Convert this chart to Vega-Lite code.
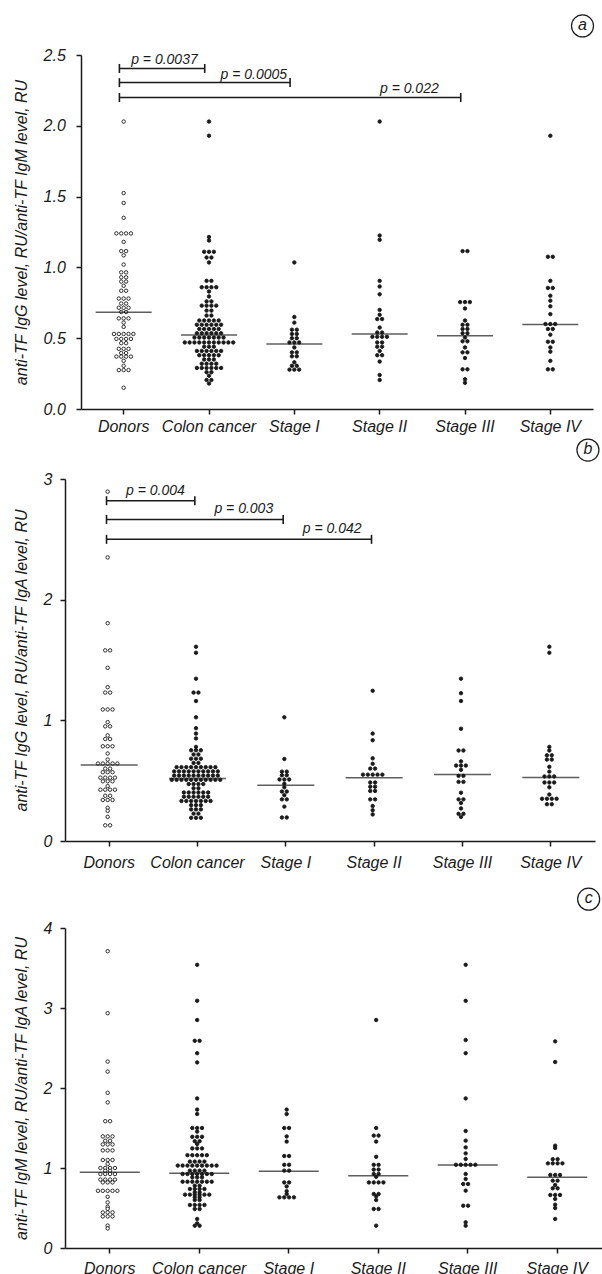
{
"$schema": "https://vega.github.io/schema/vega-lite/v6.json",
"padding": {"left": 13, "top": 12, "right": 0, "bottom": 0},
"config": {
 "view": {"stroke": null},
 "font": "Liberation Sans",
 "axis": {"domainColor": "#1a1a1a", "domainWidth": 1.5, "tickColor": "#1a1a1a", "tickWidth": 1.5, "tickSize": 5, "labelColor": "#1a1a1a", "labelFont": "Liberation Sans", "labelFontSize": 16, "labelFontStyle": "italic", "titleFont": "Liberation Sans", "titleFontSize": 16, "titleFontStyle": "italic", "titleFontWeight": "normal", "titleColor": "#1a1a1a", "grid": false, "labelFlush": false, "labelOverlap": false, "labelBound": false, "minExtent": 0, "titlePadding": 14},
 "axisX": {"labelAngle": 0}
},
"datasets": {
 "dA": [
{"g":"Donors","v":2.03},{"g":"Donors","v":1.525},{"g":"Donors","v":1.455},{"g":"Donors","v":1.35},{"g":"Donors","v":1.24},{"g":"Donors","v":1.24},{"g":"Donors","v":1.24},{"g":"Donors","v":1.24},{"g":"Donors","v":1.18},{"g":"Donors","v":1.115},{"g":"Donors","v":1.115},{"g":"Donors","v":1.085},{"g":"Donors","v":1.02},{"g":"Donors","v":0.965},{"g":"Donors","v":0.965},{"g":"Donors","v":0.93},{"g":"Donors","v":0.93},{"g":"Donors","v":0.9},{"g":"Donors","v":0.9},{"g":"Donors","v":0.87},{"g":"Donors","v":0.835},{"g":"Donors","v":0.835},{"g":"Donors","v":0.78},{"g":"Donors","v":0.78},{"g":"Donors","v":0.78},{"g":"Donors","v":0.745},{"g":"Donors","v":0.745},{"g":"Donors","v":0.715},{"g":"Donors","v":0.715},{"g":"Donors","v":0.715},{"g":"Donors","v":0.685},{"g":"Donors","v":0.685},{"g":"Donors","v":0.64},{"g":"Donors","v":0.64},{"g":"Donors","v":0.64},{"g":"Donors","v":0.61},{"g":"Donors","v":0.58},{"g":"Donors","v":0.53},{"g":"Donors","v":0.53},{"g":"Donors","v":0.53},{"g":"Donors","v":0.53},{"g":"Donors","v":0.53},{"g":"Donors","v":0.495},{"g":"Donors","v":0.495},{"g":"Donors","v":0.495},{"g":"Donors","v":0.495},{"g":"Donors","v":0.465},{"g":"Donors","v":0.465},{"g":"Donors","v":0.425},{"g":"Donors","v":0.425},{"g":"Donors","v":0.425},{"g":"Donors","v":0.395},{"g":"Donors","v":0.395},{"g":"Donors","v":0.37},{"g":"Donors","v":0.37},{"g":"Donors","v":0.37},{"g":"Donors","v":0.37},{"g":"Donors","v":0.34},{"g":"Donors","v":0.305},{"g":"Donors","v":0.275},{"g":"Donors","v":0.275},{"g":"Donors","v":0.275},{"g":"Donors","v":0.15},
{"g":"Colon cancer","v":2.03},{"g":"Colon cancer","v":1.93},{"g":"Colon cancer","v":1.215},{"g":"Colon cancer","v":1.19},{"g":"Colon cancer","v":1.11},{"g":"Colon cancer","v":1.11},{"g":"Colon cancer","v":1.11},{"g":"Colon cancer","v":1.07},{"g":"Colon cancer","v":1.07},{"g":"Colon cancer","v":1.035},{"g":"Colon cancer","v":0.905},{"g":"Colon cancer","v":0.905},{"g":"Colon cancer","v":0.86},{"g":"Colon cancer","v":0.86},{"g":"Colon cancer","v":0.86},{"g":"Colon cancer","v":0.86},{"g":"Colon cancer","v":0.83},{"g":"Colon cancer","v":0.795},{"g":"Colon cancer","v":0.76},{"g":"Colon cancer","v":0.76},{"g":"Colon cancer","v":0.73},{"g":"Colon cancer","v":0.73},{"g":"Colon cancer","v":0.73},{"g":"Colon cancer","v":0.73},{"g":"Colon cancer","v":0.695},{"g":"Colon cancer","v":0.695},{"g":"Colon cancer","v":0.66},{"g":"Colon cancer","v":0.66},{"g":"Colon cancer","v":0.625},{"g":"Colon cancer","v":0.625},{"g":"Colon cancer","v":0.625},{"g":"Colon cancer","v":0.625},{"g":"Colon cancer","v":0.625},{"g":"Colon cancer","v":0.595},{"g":"Colon cancer","v":0.595},{"g":"Colon cancer","v":0.595},{"g":"Colon cancer","v":0.595},{"g":"Colon cancer","v":0.595},{"g":"Colon cancer","v":0.595},{"g":"Colon cancer","v":0.565},{"g":"Colon cancer","v":0.565},{"g":"Colon cancer","v":0.565},{"g":"Colon cancer","v":0.565},{"g":"Colon cancer","v":0.565},{"g":"Colon cancer","v":0.535},{"g":"Colon cancer","v":0.535},{"g":"Colon cancer","v":0.535},{"g":"Colon cancer","v":0.535},{"g":"Colon cancer","v":0.535},{"g":"Colon cancer","v":0.535},{"g":"Colon cancer","v":0.505},{"g":"Colon cancer","v":0.505},{"g":"Colon cancer","v":0.505},{"g":"Colon cancer","v":0.505},{"g":"Colon cancer","v":0.505},{"g":"Colon cancer","v":0.505},{"g":"Colon cancer","v":0.505},{"g":"Colon cancer","v":0.47},{"g":"Colon cancer","v":0.47},{"g":"Colon cancer","v":0.47},{"g":"Colon cancer","v":0.47},{"g":"Colon cancer","v":0.47},{"g":"Colon cancer","v":0.47},{"g":"Colon cancer","v":0.47},{"g":"Colon cancer","v":0.47},{"g":"Colon cancer","v":0.47},{"g":"Colon cancer","v":0.47},{"g":"Colon cancer","v":0.47},{"g":"Colon cancer","v":0.44},{"g":"Colon cancer","v":0.44},{"g":"Colon cancer","v":0.44},{"g":"Colon cancer","v":0.41},{"g":"Colon cancer","v":0.41},{"g":"Colon cancer","v":0.41},{"g":"Colon cancer","v":0.41},{"g":"Colon cancer","v":0.41},{"g":"Colon cancer","v":0.41},{"g":"Colon cancer","v":0.38},{"g":"Colon cancer","v":0.38},{"g":"Colon cancer","v":0.38},{"g":"Colon cancer","v":0.38},{"g":"Colon cancer","v":0.38},{"g":"Colon cancer","v":0.35},{"g":"Colon cancer","v":0.35},{"g":"Colon cancer","v":0.35},{"g":"Colon cancer","v":0.32},{"g":"Colon cancer","v":0.32},{"g":"Colon cancer","v":0.32},{"g":"Colon cancer","v":0.32},{"g":"Colon cancer","v":0.29},{"g":"Colon cancer","v":0.29},{"g":"Colon cancer","v":0.29},{"g":"Colon cancer","v":0.29},{"g":"Colon cancer","v":0.29},{"g":"Colon cancer","v":0.29},{"g":"Colon cancer","v":0.26},{"g":"Colon cancer","v":0.26},{"g":"Colon cancer","v":0.235},{"g":"Colon cancer","v":0.205},{"g":"Colon cancer","v":0.205},{"g":"Colon cancer","v":0.18},
{"g":"Stage I","v":1.035},{"g":"Stage I","v":0.65},{"g":"Stage I","v":0.61},{"g":"Stage I","v":0.56},{"g":"Stage I","v":0.56},{"g":"Stage I","v":0.53},{"g":"Stage I","v":0.53},{"g":"Stage I","v":0.5},{"g":"Stage I","v":0.5},{"g":"Stage I","v":0.47},{"g":"Stage I","v":0.47},{"g":"Stage I","v":0.47},{"g":"Stage I","v":0.435},{"g":"Stage I","v":0.4},{"g":"Stage I","v":0.4},{"g":"Stage I","v":0.372},{"g":"Stage I","v":0.372},{"g":"Stage I","v":0.33},{"g":"Stage I","v":0.305},{"g":"Stage I","v":0.305},{"g":"Stage I","v":0.278},{"g":"Stage I","v":0.278},{"g":"Stage I","v":0.278},
{"g":"Stage II","v":2.03},{"g":"Stage II","v":1.225},{"g":"Stage II","v":1.195},{"g":"Stage II","v":0.905},{"g":"Stage II","v":0.865},{"g":"Stage II","v":0.81},{"g":"Stage II","v":0.7},{"g":"Stage II","v":0.665},{"g":"Stage II","v":0.635},{"g":"Stage II","v":0.635},{"g":"Stage II","v":0.575},{"g":"Stage II","v":0.54},{"g":"Stage II","v":0.54},{"g":"Stage II","v":0.51},{"g":"Stage II","v":0.51},{"g":"Stage II","v":0.51},{"g":"Stage II","v":0.51},{"g":"Stage II","v":0.47},{"g":"Stage II","v":0.47},{"g":"Stage II","v":0.44},{"g":"Stage II","v":0.44},{"g":"Stage II","v":0.41},{"g":"Stage II","v":0.38},{"g":"Stage II","v":0.38},{"g":"Stage II","v":0.335},{"g":"Stage II","v":0.24},{"g":"Stage II","v":0.205},
{"g":"Stage III","v":1.115},{"g":"Stage III","v":1.115},{"g":"Stage III","v":0.755},{"g":"Stage III","v":0.755},{"g":"Stage III","v":0.755},{"g":"Stage III","v":0.71},{"g":"Stage III","v":0.625},{"g":"Stage III","v":0.595},{"g":"Stage III","v":0.595},{"g":"Stage III","v":0.565},{"g":"Stage III","v":0.565},{"g":"Stage III","v":0.535},{"g":"Stage III","v":0.535},{"g":"Stage III","v":0.505},{"g":"Stage III","v":0.478},{"g":"Stage III","v":0.478},{"g":"Stage III","v":0.435},{"g":"Stage III","v":0.4},{"g":"Stage III","v":0.4},{"g":"Stage III","v":0.36},{"g":"Stage III","v":0.28},{"g":"Stage III","v":0.28},{"g":"Stage III","v":0.21},{"g":"Stage III","v":0.185},
{"g":"Stage IV","v":1.93},{"g":"Stage IV","v":1.075},{"g":"Stage IV","v":1.075},{"g":"Stage IV","v":0.905},{"g":"Stage IV","v":0.855},{"g":"Stage IV","v":0.855},{"g":"Stage IV","v":0.8},{"g":"Stage IV","v":0.765},{"g":"Stage IV","v":0.725},{"g":"Stage IV","v":0.67},{"g":"Stage IV","v":0.6},{"g":"Stage IV","v":0.6},{"g":"Stage IV","v":0.6},{"g":"Stage IV","v":0.565},{"g":"Stage IV","v":0.565},{"g":"Stage IV","v":0.525},{"g":"Stage IV","v":0.475},{"g":"Stage IV","v":0.475},{"g":"Stage IV","v":0.435},{"g":"Stage IV","v":0.405},{"g":"Stage IV","v":0.34},{"g":"Stage IV","v":0.28},{"g":"Stage IV","v":0.28}
 ],
 "dB": [
{"g":"Donors","v":2.895},{"g":"Donors","v":2.35},{"g":"Donors","v":1.805},{"g":"Donors","v":1.58},{"g":"Donors","v":1.58},{"g":"Donors","v":1.435},{"g":"Donors","v":1.275},{"g":"Donors","v":1.23},{"g":"Donors","v":1.23},{"g":"Donors","v":1.09},{"g":"Donors","v":1.09},{"g":"Donors","v":1.09},{"g":"Donors","v":0.985},{"g":"Donors","v":0.95},{"g":"Donors","v":0.95},{"g":"Donors","v":0.875},{"g":"Donors","v":0.845},{"g":"Donors","v":0.845},{"g":"Donors","v":0.785},{"g":"Donors","v":0.785},{"g":"Donors","v":0.785},{"g":"Donors","v":0.725},{"g":"Donors","v":0.675},{"g":"Donors","v":0.642},{"g":"Donors","v":0.642},{"g":"Donors","v":0.642},{"g":"Donors","v":0.642},{"g":"Donors","v":0.642},{"g":"Donors","v":0.6},{"g":"Donors","v":0.6},{"g":"Donors","v":0.57},{"g":"Donors","v":0.57},{"g":"Donors","v":0.57},{"g":"Donors","v":0.525},{"g":"Donors","v":0.525},{"g":"Donors","v":0.525},{"g":"Donors","v":0.525},{"g":"Donors","v":0.495},{"g":"Donors","v":0.495},{"g":"Donors","v":0.495},{"g":"Donors","v":0.455},{"g":"Donors","v":0.425},{"g":"Donors","v":0.425},{"g":"Donors","v":0.425},{"g":"Donors","v":0.425},{"g":"Donors","v":0.375},{"g":"Donors","v":0.375},{"g":"Donors","v":0.34},{"g":"Donors","v":0.34},{"g":"Donors","v":0.34},{"g":"Donors","v":0.275},{"g":"Donors","v":0.25},{"g":"Donors","v":0.2},{"g":"Donors","v":0.13},{"g":"Donors","v":0.13},
{"g":"Colon cancer","v":1.61},{"g":"Colon cancer","v":1.56},{"g":"Colon cancer","v":1.345},{"g":"Colon cancer","v":1.23},{"g":"Colon cancer","v":1.23},{"g":"Colon cancer","v":1.16},{"g":"Colon cancer","v":1.025},{"g":"Colon cancer","v":0.935},{"g":"Colon cancer","v":0.89},{"g":"Colon cancer","v":0.85},{"g":"Colon cancer","v":0.78},{"g":"Colon cancer","v":0.752},{"g":"Colon cancer","v":0.752},{"g":"Colon cancer","v":0.752},{"g":"Colon cancer","v":0.717},{"g":"Colon cancer","v":0.717},{"g":"Colon cancer","v":0.682},{"g":"Colon cancer","v":0.682},{"g":"Colon cancer","v":0.682},{"g":"Colon cancer","v":0.647},{"g":"Colon cancer","v":0.647},{"g":"Colon cancer","v":0.612},{"g":"Colon cancer","v":0.612},{"g":"Colon cancer","v":0.612},{"g":"Colon cancer","v":0.612},{"g":"Colon cancer","v":0.612},{"g":"Colon cancer","v":0.612},{"g":"Colon cancer","v":0.612},{"g":"Colon cancer","v":0.612},{"g":"Colon cancer","v":0.612},{"g":"Colon cancer","v":0.577},{"g":"Colon cancer","v":0.577},{"g":"Colon cancer","v":0.577},{"g":"Colon cancer","v":0.577},{"g":"Colon cancer","v":0.577},{"g":"Colon cancer","v":0.577},{"g":"Colon cancer","v":0.577},{"g":"Colon cancer","v":0.577},{"g":"Colon cancer","v":0.577},{"g":"Colon cancer","v":0.577},{"g":"Colon cancer","v":0.542},{"g":"Colon cancer","v":0.542},{"g":"Colon cancer","v":0.542},{"g":"Colon cancer","v":0.542},{"g":"Colon cancer","v":0.542},{"g":"Colon cancer","v":0.542},{"g":"Colon cancer","v":0.542},{"g":"Colon cancer","v":0.542},{"g":"Colon cancer","v":0.542},{"g":"Colon cancer","v":0.542},{"g":"Colon cancer","v":0.507},{"g":"Colon cancer","v":0.507},{"g":"Colon cancer","v":0.507},{"g":"Colon cancer","v":0.507},{"g":"Colon cancer","v":0.507},{"g":"Colon cancer","v":0.507},{"g":"Colon cancer","v":0.507},{"g":"Colon cancer","v":0.507},{"g":"Colon cancer","v":0.507},{"g":"Colon cancer","v":0.507},{"g":"Colon cancer","v":0.507},{"g":"Colon cancer","v":0.472},{"g":"Colon cancer","v":0.472},{"g":"Colon cancer","v":0.472},{"g":"Colon cancer","v":0.472},{"g":"Colon cancer","v":0.437},{"g":"Colon cancer","v":0.437},{"g":"Colon cancer","v":0.402},{"g":"Colon cancer","v":0.402},{"g":"Colon cancer","v":0.402},{"g":"Colon cancer","v":0.402},{"g":"Colon cancer","v":0.402},{"g":"Colon cancer","v":0.402},{"g":"Colon cancer","v":0.367},{"g":"Colon cancer","v":0.367},{"g":"Colon cancer","v":0.367},{"g":"Colon cancer","v":0.367},{"g":"Colon cancer","v":0.367},{"g":"Colon cancer","v":0.367},{"g":"Colon cancer","v":0.332},{"g":"Colon cancer","v":0.332},{"g":"Colon cancer","v":0.332},{"g":"Colon cancer","v":0.332},{"g":"Colon cancer","v":0.332},{"g":"Colon cancer","v":0.332},{"g":"Colon cancer","v":0.332},{"g":"Colon cancer","v":0.297},{"g":"Colon cancer","v":0.297},{"g":"Colon cancer","v":0.297},{"g":"Colon cancer","v":0.262},{"g":"Colon cancer","v":0.262},{"g":"Colon cancer","v":0.262},{"g":"Colon cancer","v":0.227},{"g":"Colon cancer","v":0.227},{"g":"Colon cancer","v":0.192},{"g":"Colon cancer","v":0.192},{"g":"Colon cancer","v":0.192},
{"g":"Stage I","v":1.025},{"g":"Stage I","v":0.68},{"g":"Stage I","v":0.575},{"g":"Stage I","v":0.575},{"g":"Stage I","v":0.545},{"g":"Stage I","v":0.545},{"g":"Stage I","v":0.51},{"g":"Stage I","v":0.51},{"g":"Stage I","v":0.51},{"g":"Stage I","v":0.475},{"g":"Stage I","v":0.445},{"g":"Stage I","v":0.41},{"g":"Stage I","v":0.41},{"g":"Stage I","v":0.38},{"g":"Stage I","v":0.345},{"g":"Stage I","v":0.345},{"g":"Stage I","v":0.285},{"g":"Stage I","v":0.195},{"g":"Stage I","v":0.195},
{"g":"Stage II","v":1.245},{"g":"Stage II","v":0.89},{"g":"Stage II","v":0.835},{"g":"Stage II","v":0.685},{"g":"Stage II","v":0.64},{"g":"Stage II","v":0.6},{"g":"Stage II","v":0.6},{"g":"Stage II","v":0.55},{"g":"Stage II","v":0.55},{"g":"Stage II","v":0.55},{"g":"Stage II","v":0.55},{"g":"Stage II","v":0.55},{"g":"Stage II","v":0.485},{"g":"Stage II","v":0.485},{"g":"Stage II","v":0.45},{"g":"Stage II","v":0.45},{"g":"Stage II","v":0.415},{"g":"Stage II","v":0.415},{"g":"Stage II","v":0.345},{"g":"Stage II","v":0.345},{"g":"Stage II","v":0.29},{"g":"Stage II","v":0.255},{"g":"Stage II","v":0.22},
{"g":"Stage III","v":1.345},{"g":"Stage III","v":1.225},{"g":"Stage III","v":1.16},{"g":"Stage III","v":0.93},{"g":"Stage III","v":0.75},{"g":"Stage III","v":0.75},{"g":"Stage III","v":0.66},{"g":"Stage III","v":0.625},{"g":"Stage III","v":0.625},{"g":"Stage III","v":0.625},{"g":"Stage III","v":0.59},{"g":"Stage III","v":0.54},{"g":"Stage III","v":0.54},{"g":"Stage III","v":0.49},{"g":"Stage III","v":0.49},{"g":"Stage III","v":0.4},{"g":"Stage III","v":0.345},{"g":"Stage III","v":0.345},{"g":"Stage III","v":0.315},{"g":"Stage III","v":0.27},{"g":"Stage III","v":0.225},{"g":"Stage III","v":0.225},{"g":"Stage III","v":0.2},
{"g":"Stage IV","v":1.61},{"g":"Stage IV","v":1.56},{"g":"Stage IV","v":0.78},{"g":"Stage IV","v":0.75},{"g":"Stage IV","v":0.71},{"g":"Stage IV","v":0.71},{"g":"Stage IV","v":0.675},{"g":"Stage IV","v":0.675},{"g":"Stage IV","v":0.615},{"g":"Stage IV","v":0.575},{"g":"Stage IV","v":0.535},{"g":"Stage IV","v":0.535},{"g":"Stage IV","v":0.535},{"g":"Stage IV","v":0.485},{"g":"Stage IV","v":0.485},{"g":"Stage IV","v":0.485},{"g":"Stage IV","v":0.445},{"g":"Stage IV","v":0.385},{"g":"Stage IV","v":0.35},{"g":"Stage IV","v":0.35},{"g":"Stage IV","v":0.35},{"g":"Stage IV","v":0.35},{"g":"Stage IV","v":0.305},{"g":"Stage IV","v":0.305}
 ],
 "dC": [
{"g":"Donors","v":3.71},{"g":"Donors","v":2.935},{"g":"Donors","v":2.33},{"g":"Donors","v":2.205},{"g":"Donors","v":1.94},{"g":"Donors","v":1.82},{"g":"Donors","v":1.585},{"g":"Donors","v":1.585},{"g":"Donors","v":1.395},{"g":"Donors","v":1.395},{"g":"Donors","v":1.395},{"g":"Donors","v":1.34},{"g":"Donors","v":1.34},{"g":"Donors","v":1.295},{"g":"Donors","v":1.295},{"g":"Donors","v":1.295},{"g":"Donors","v":1.22},{"g":"Donors","v":1.22},{"g":"Donors","v":1.22},{"g":"Donors","v":1.1},{"g":"Donors","v":1.1},{"g":"Donors","v":1.1},{"g":"Donors","v":1.05},{"g":"Donors","v":1.0},{"g":"Donors","v":1.0},{"g":"Donors","v":1.0},{"g":"Donors","v":1.0},{"g":"Donors","v":0.965},{"g":"Donors","v":0.965},{"g":"Donors","v":0.925},{"g":"Donors","v":0.925},{"g":"Donors","v":0.925},{"g":"Donors","v":0.925},{"g":"Donors","v":0.855},{"g":"Donors","v":0.855},{"g":"Donors","v":0.855},{"g":"Donors","v":0.855},{"g":"Donors","v":0.82},{"g":"Donors","v":0.82},{"g":"Donors","v":0.82},{"g":"Donors","v":0.715},{"g":"Donors","v":0.715},{"g":"Donors","v":0.715},{"g":"Donors","v":0.715},{"g":"Donors","v":0.715},{"g":"Donors","v":0.64},{"g":"Donors","v":0.57},{"g":"Donors","v":0.515},{"g":"Donors","v":0.49},{"g":"Donors","v":0.445},{"g":"Donors","v":0.445},{"g":"Donors","v":0.445},{"g":"Donors","v":0.395},{"g":"Donors","v":0.395},{"g":"Donors","v":0.395},{"g":"Donors","v":0.28},{"g":"Donors","v":0.245},
{"g":"Colon cancer","v":3.54},{"g":"Colon cancer","v":3.09},{"g":"Colon cancer","v":2.85},{"g":"Colon cancer","v":2.59},{"g":"Colon cancer","v":2.59},{"g":"Colon cancer","v":2.435},{"g":"Colon cancer","v":2.32},{"g":"Colon cancer","v":1.87},{"g":"Colon cancer","v":1.73},{"g":"Colon cancer","v":1.675},{"g":"Colon cancer","v":1.5},{"g":"Colon cancer","v":1.5},{"g":"Colon cancer","v":1.5},{"g":"Colon cancer","v":1.455},{"g":"Colon cancer","v":1.39},{"g":"Colon cancer","v":1.39},{"g":"Colon cancer","v":1.39},{"g":"Colon cancer","v":1.335},{"g":"Colon cancer","v":1.335},{"g":"Colon cancer","v":1.3},{"g":"Colon cancer","v":1.245},{"g":"Colon cancer","v":1.245},{"g":"Colon cancer","v":1.245},{"g":"Colon cancer","v":1.16},{"g":"Colon cancer","v":1.16},{"g":"Colon cancer","v":1.16},{"g":"Colon cancer","v":1.16},{"g":"Colon cancer","v":1.16},{"g":"Colon cancer","v":1.08},{"g":"Colon cancer","v":1.08},{"g":"Colon cancer","v":1.08},{"g":"Colon cancer","v":1.08},{"g":"Colon cancer","v":1.03},{"g":"Colon cancer","v":1.03},{"g":"Colon cancer","v":1.03},{"g":"Colon cancer","v":1.03},{"g":"Colon cancer","v":1.03},{"g":"Colon cancer","v":1.03},{"g":"Colon cancer","v":1.03},{"g":"Colon cancer","v":1.03},{"g":"Colon cancer","v":1.03},{"g":"Colon cancer","v":0.967},{"g":"Colon cancer","v":0.967},{"g":"Colon cancer","v":0.967},{"g":"Colon cancer","v":0.967},{"g":"Colon cancer","v":0.925},{"g":"Colon cancer","v":0.925},{"g":"Colon cancer","v":0.925},{"g":"Colon cancer","v":0.925},{"g":"Colon cancer","v":0.925},{"g":"Colon cancer","v":0.925},{"g":"Colon cancer","v":0.925},{"g":"Colon cancer","v":0.883},{"g":"Colon cancer","v":0.883},{"g":"Colon cancer","v":0.883},{"g":"Colon cancer","v":0.829},{"g":"Colon cancer","v":0.829},{"g":"Colon cancer","v":0.829},{"g":"Colon cancer","v":0.829},{"g":"Colon cancer","v":0.829},{"g":"Colon cancer","v":0.829},{"g":"Colon cancer","v":0.829},{"g":"Colon cancer","v":0.779},{"g":"Colon cancer","v":0.779},{"g":"Colon cancer","v":0.738},{"g":"Colon cancer","v":0.738},{"g":"Colon cancer","v":0.738},{"g":"Colon cancer","v":0.738},{"g":"Colon cancer","v":0.696},{"g":"Colon cancer","v":0.696},{"g":"Colon cancer","v":0.667},{"g":"Colon cancer","v":0.667},{"g":"Colon cancer","v":0.667},{"g":"Colon cancer","v":0.667},{"g":"Colon cancer","v":0.667},{"g":"Colon cancer","v":0.667},{"g":"Colon cancer","v":0.633},{"g":"Colon cancer","v":0.633},{"g":"Colon cancer","v":0.6},{"g":"Colon cancer","v":0.6},{"g":"Colon cancer","v":0.538},{"g":"Colon cancer","v":0.538},{"g":"Colon cancer","v":0.538},{"g":"Colon cancer","v":0.538},{"g":"Colon cancer","v":0.488},{"g":"Colon cancer","v":0.488},{"g":"Colon cancer","v":0.363},{"g":"Colon cancer","v":0.308},{"g":"Colon cancer","v":0.279},{"g":"Colon cancer","v":0.279},
{"g":"Stage I","v":1.73},{"g":"Stage I","v":1.675},{"g":"Stage I","v":1.5},{"g":"Stage I","v":1.5},{"g":"Stage I","v":1.395},{"g":"Stage I","v":1.33},{"g":"Stage I","v":1.15},{"g":"Stage I","v":1.15},{"g":"Stage I","v":1.04},{"g":"Stage I","v":1.04},{"g":"Stage I","v":0.967},{"g":"Stage I","v":0.967},{"g":"Stage I","v":0.82},{"g":"Stage I","v":0.82},{"g":"Stage I","v":0.77},{"g":"Stage I","v":0.71},{"g":"Stage I","v":0.675},{"g":"Stage I","v":0.633},{"g":"Stage I","v":0.633},{"g":"Stage I","v":0.633},{"g":"Stage I","v":0.633},
{"g":"Stage II","v":2.85},{"g":"Stage II","v":1.5},{"g":"Stage II","v":1.405},{"g":"Stage II","v":1.405},{"g":"Stage II","v":1.33},{"g":"Stage II","v":1.14},{"g":"Stage II","v":1.04},{"g":"Stage II","v":1.04},{"g":"Stage II","v":0.98},{"g":"Stage II","v":0.98},{"g":"Stage II","v":0.925},{"g":"Stage II","v":0.925},{"g":"Stage II","v":0.89},{"g":"Stage II","v":0.82},{"g":"Stage II","v":0.82},{"g":"Stage II","v":0.82},{"g":"Stage II","v":0.82},{"g":"Stage II","v":0.675},{"g":"Stage II","v":0.675},{"g":"Stage II","v":0.646},{"g":"Stage II","v":0.6},{"g":"Stage II","v":0.488},{"g":"Stage II","v":0.488},{"g":"Stage II","v":0.279},
{"g":"Stage III","v":3.54},{"g":"Stage III","v":3.09},{"g":"Stage III","v":2.6},{"g":"Stage III","v":2.435},{"g":"Stage III","v":1.87},{"g":"Stage III","v":1.463},{"g":"Stage III","v":1.342},{"g":"Stage III","v":1.258},{"g":"Stage III","v":1.183},{"g":"Stage III","v":1.113},{"g":"Stage III","v":1.04},{"g":"Stage III","v":1.04},{"g":"Stage III","v":1.04},{"g":"Stage III","v":1.04},{"g":"Stage III","v":1.04},{"g":"Stage III","v":0.925},{"g":"Stage III","v":0.863},{"g":"Stage III","v":0.8},{"g":"Stage III","v":0.8},{"g":"Stage III","v":0.717},{"g":"Stage III","v":0.529},{"g":"Stage III","v":0.529},{"g":"Stage III","v":0.321},{"g":"Stage III","v":0.279},
{"g":"Stage IV","v":2.583},{"g":"Stage IV","v":2.325},{"g":"Stage IV","v":1.279},{"g":"Stage IV","v":1.25},{"g":"Stage IV","v":1.11},{"g":"Stage IV","v":1.11},{"g":"Stage IV","v":1.058},{"g":"Stage IV","v":1.058},{"g":"Stage IV","v":1.058},{"g":"Stage IV","v":1.058},{"g":"Stage IV","v":0.913},{"g":"Stage IV","v":0.913},{"g":"Stage IV","v":0.913},{"g":"Stage IV","v":0.842},{"g":"Stage IV","v":0.842},{"g":"Stage IV","v":0.788},{"g":"Stage IV","v":0.746},{"g":"Stage IV","v":0.746},{"g":"Stage IV","v":0.663},{"g":"Stage IV","v":0.663},{"g":"Stage IV","v":0.663},{"g":"Stage IV","v":0.613},{"g":"Stage IV","v":0.542},{"g":"Stage IV","v":0.5},{"g":"Stage IV","v":0.363}
 ],
 "mA": [{"g":"Donors","m":0.683},{"g":"Colon cancer","m":0.523},{"g":"Stage I","m":0.459},{"g":"Stage II","m":0.53},{"g":"Stage III","m":0.518},{"g":"Stage IV","m":0.596}],
 "mB": [{"g":"Donors","m":0.63},{"g":"Colon cancer","m":0.518},{"g":"Stage I","m":0.463},{"g":"Stage II","m":0.524},{"g":"Stage III","m":0.551},{"g":"Stage IV","m":0.527}],
 "mC": [{"g":"Donors","m":0.946},{"g":"Colon cancer","m":0.933},{"g":"Stage I","m":0.958},{"g":"Stage II","m":0.904},{"g":"Stage III","m":1.038},{"g":"Stage IV","m":0.883}],
 "bA": [{"k":1,"g":"Donors","y":2.405},{"k":1,"g":"Colon cancer","y":2.405},{"k":2,"g":"Donors","y":2.305},{"k":2,"g":"Stage I","y":2.305},{"k":3,"g":"Donors","y":2.2},{"k":3,"g":"Stage III","y":2.2}],
 "bB": [{"k":1,"g":"Donors","y":2.82},{"k":1,"g":"Colon cancer","y":2.82},{"k":2,"g":"Donors","y":2.665},{"k":2,"g":"Stage I","y":2.665},{"k":3,"g":"Donors","y":2.5},{"k":3,"g":"Stage II","y":2.5}],
 "pA": [{"g":"Colon cancer","y":2.405,"p":"p = 0.0037"},{"g":"Stage I","y":2.305,"p":"p = 0.0005"},{"g":"Stage III","y":2.2,"p":"p = 0.022"}],
 "pB": [{"g":"Colon cancer","y":2.82,"p":"p = 0.004"},{"g":"Stage I","y":2.665,"p":"p = 0.003"},{"g":"Stage II","y":2.5,"p":"p = 0.042"}]
},
"columns": 1,
"bounds": "flush",
"spacing": 70,
"concat": [
{
 "width": 528, "height": 354,
 "layer": [
  {
   "data": {"name": "dA"},
   "transform": [
    {"window": [{"op": "row_number", "as": "r"}], "groupby": ["g", "v"]},
    {"joinaggregate": [{"op": "count", "as": "n"}], "groupby": ["g", "v"]},
    {"calculate": "datum.r - (datum.n + 1) / 2", "as": "off"}
   ],
   "mark": {"type": "point", "filled": true, "size": 12, "stroke": "#1a1a1a", "strokeWidth": 0.9, "opacity": 1},
   "encoding": {
    "x": {"field": "g", "type": "nominal", "sort": null, "scale": {"domain": ["Donors","Colon cancer","Stage I","Stage II","Stage III","Stage IV"], "range": [16, 528], "paddingInner": 0, "paddingOuter": 0}, "axis": {"title": null, "labelPadding": 4}},
    "xOffset": {"field": "off", "type": "quantitative", "scale": {"domain": [-7.75, 7.75]}},
    "y": {"field": "v", "type": "quantitative", "scale": {"domain": [0, 2.5], "nice": false}, "axis": {"title": "anti-TF IgG level, RU/anti-TF IgM level, RU", "values": [0, 0.5, 1, 1.5, 2, 2.5], "format": ".1f", "labelPadding": 10.7, "offset": -16}},
    "fill": {"condition": {"test": "datum.g === 'Donors'", "value": "#ffffff"}, "value": "#1a1a1a"}
   }
  },
  {
   "data": {"name": "mA"},
   "mark": {"type": "tick", "size": 56, "thickness": 1.5, "color": "#1a1a1a"},
   "encoding": {
    "x": {"field": "g", "type": "nominal"},
    "y": {"field": "m", "type": "quantitative"}
   }
  },
  {
   "data": {"name": "bA"},
   "mark": {"type": "line", "strokeWidth": 1.5, "color": "#1a1a1a"},
   "encoding": {
    "x": {"field": "g", "type": "nominal", "bandPosition": 0.45},
    "y": {"field": "y", "type": "quantitative"},
    "detail": {"field": "k", "type": "nominal"}
   }
  },
  {
   "data": {"name": "bA"},
   "mark": {"type": "point", "shape": "stroke", "angle": 90, "size": 81, "strokeWidth": 1.6, "color": "#1a1a1a", "filled": false, "opacity": 1},
   "encoding": {
    "x": {"field": "g", "type": "nominal", "bandPosition": 0.45},
    "y": {"field": "y", "type": "quantitative"}
   }
  },
  {
   "data": {"name": "pA"},
   "transform": [{"filter": "datum.g === 'Colon cancer'"}],
   "mark": {"type": "text", "align": "right", "baseline": "alphabetic", "dx": -7, "dy": -4, "fontSize": 14, "fontStyle": "italic", "color": "#1a1a1a"},
   "encoding": {
    "x": {"field": "g", "type": "nominal", "bandPosition": 0.45},
    "y": {"field": "y", "type": "quantitative"},
    "text": {"field": "p"}
   }
  },
  {
   "data": {"name": "pA"},
   "transform": [{"filter": "datum.g === 'Stage I'"}],
   "mark": {"type": "text", "align": "right", "baseline": "alphabetic", "dx": -3, "dy": -4, "fontSize": 14, "fontStyle": "italic", "color": "#1a1a1a"},
   "encoding": {
    "x": {"field": "g", "type": "nominal", "bandPosition": 0.45},
    "y": {"field": "y", "type": "quantitative"},
    "text": {"field": "p"}
   }
  },
  {
   "data": {"name": "pA"},
   "transform": [{"filter": "datum.g === 'Stage III'"}],
   "mark": {"type": "text", "align": "right", "baseline": "alphabetic", "dx": -22, "dy": -4, "fontSize": 14, "fontStyle": "italic", "color": "#1a1a1a"},
   "encoding": {
    "x": {"field": "g", "type": "nominal", "bandPosition": 0.45},
    "y": {"field": "y", "type": "quantitative"},
    "text": {"field": "p"}
   }
  },
  {
   "data": {"values": [{"t": "a", "g": "Stage IV"}]},
   "mark": {"type": "point", "shape": "circle", "size": 484, "filled": false, "strokeWidth": 1.2, "color": "#1a1a1a", "opacity": 1},
   "encoding": {
    "x": {"field": "g", "type": "nominal", "bandPosition": 0.877},
    "y": {"datum": 2.705, "type": "quantitative"}
   }
  },
  {
   "data": {"values": [{"t": "a", "g": "Stage IV"}]},
   "mark": {"type": "text", "align": "center", "baseline": "middle", "dy": -1, "fontSize": 16, "fontStyle": "italic", "color": "#1a1a1a"},
   "encoding": {
    "x": {"field": "g", "type": "nominal", "bandPosition": 0.877},
    "y": {"datum": 2.705, "type": "quantitative"},
    "text": {"field": "t"}
   }
  }
 ]
},
{
 "columns": 1,
 "bounds": "flush",
 "spacing": 87,
 "concat": [
 {
  "width": 530, "height": 362,
  "layer": [
   {
    "data": {"name": "dB"},
    "transform": [
     {"window": [{"op": "row_number", "as": "r"}], "groupby": ["g", "v"]},
     {"joinaggregate": [{"op": "count", "as": "n"}], "groupby": ["g", "v"]},
     {"calculate": "datum.r - (datum.n + 1) / 2", "as": "off"}
    ],
    "mark": {"type": "point", "filled": true, "size": 12, "stroke": "#1a1a1a", "strokeWidth": 0.9, "opacity": 1},
    "encoding": {
     "x": {"field": "g", "type": "nominal", "sort": null, "scale": {"domain": ["Donors","Colon cancer","Stage I","Stage II","Stage III","Stage IV"], "paddingInner": 0, "paddingOuter": 0}, "axis": {"title": null, "labelPadding": 8}},
     "xOffset": {"field": "off", "type": "quantitative", "scale": {"domain": [-8.8, 8.8]}},
     "y": {"field": "v", "type": "quantitative", "scale": {"domain": [0, 3], "nice": false}, "axis": {"title": "anti-TF IgG level, RU/anti-TF IgA level, RU", "values": [0, 1, 2, 3], "format": "d", "labelPadding": 8.1}},
     "fill": {"condition": {"test": "datum.g === 'Donors'", "value": "#ffffff"}, "value": "#1a1a1a"}
    }
   },
   {
    "data": {"name": "mB"},
    "mark": {"type": "tick", "size": 57, "thickness": 1.5, "color": "#1a1a1a"},
    "encoding": {
     "x": {"field": "g", "type": "nominal"},
     "y": {"field": "m", "type": "quantitative"}
    }
   },
   {
    "data": {"name": "bB"},
    "mark": {"type": "line", "strokeWidth": 1.5, "color": "#1a1a1a"},
    "encoding": {
     "x": {"field": "g", "type": "nominal", "bandPosition": 0.47},
     "y": {"field": "y", "type": "quantitative"},
     "detail": {"field": "k", "type": "nominal"}
    }
   },
   {
    "data": {"name": "bB"},
    "mark": {"type": "point", "shape": "stroke", "angle": 90, "size": 81, "strokeWidth": 1.6, "color": "#1a1a1a", "filled": false, "opacity": 1},
    "encoding": {
     "x": {"field": "g", "type": "nominal", "bandPosition": 0.47},
     "y": {"field": "y", "type": "quantitative"}
    }
   },
   {
    "data": {"name": "pB"},
    "mark": {"type": "text", "align": "right", "baseline": "alphabetic", "dx": -10, "dy": -6, "fontSize": 14, "fontStyle": "italic", "color": "#1a1a1a"},
    "encoding": {
     "x": {"field": "g", "type": "nominal", "bandPosition": 0.47},
     "y": {"field": "y", "type": "quantitative"},
     "text": {"field": "p"}
    }
   },
   {
    "data": {"values": [{"t": "b", "g": "Stage IV"}]},
    "mark": {"type": "point", "shape": "circle", "size": 484, "filled": false, "strokeWidth": 1.2, "color": "#1a1a1a", "opacity": 1},
    "encoding": {
     "x": {"field": "g", "type": "nominal", "bandPosition": 0.92},
     "y": {"datum": 3.24, "type": "quantitative"}
    }
   },
   {
    "data": {"values": [{"t": "b", "g": "Stage IV"}]},
    "mark": {"type": "text", "align": "center", "baseline": "middle", "dy": -1, "fontSize": 16, "fontStyle": "italic", "color": "#1a1a1a"},
    "encoding": {
     "x": {"field": "g", "type": "nominal", "bandPosition": 0.92},
     "y": {"datum": 3.24, "type": "quantitative"},
     "text": {"field": "t"}
    }
   }
  ]
 },
 {
  "width": 537, "height": 320,
  "layer": [
   {
    "data": {"name": "dC"},
    "transform": [
     {"window": [{"op": "row_number", "as": "r"}], "groupby": ["g", "v"]},
     {"joinaggregate": [{"op": "count", "as": "n"}], "groupby": ["g", "v"]},
     {"calculate": "datum.r - (datum.n + 1) / 2", "as": "off"}
    ],
    "mark": {"type": "point", "filled": true, "size": 12, "stroke": "#1a1a1a", "strokeWidth": 0.9, "opacity": 1},
    "encoding": {
     "x": {"field": "g", "type": "nominal", "sort": null, "scale": {"domain": ["Donors","Colon cancer","Stage I","Stage II","Stage III","Stage IV"], "paddingInner": 0, "paddingOuter": 0}, "axis": {"title": null, "labelPadding": 7}},
     "xOffset": {"field": "off", "type": "quantitative", "scale": {"domain": [-8, 8]}},
     "y": {"field": "v", "type": "quantitative", "scale": {"domain": [0, 4], "nice": false}, "axis": {"title": "anti-TF IgM level, RU/anti-TF IgA level, RU", "values": [0, 1, 2, 3, 4], "format": "d", "labelPadding": 8.1}},
     "fill": {"condition": {"test": "datum.g === 'Donors'", "value": "#ffffff"}, "value": "#1a1a1a"}
    }
   },
   {
    "data": {"name": "mC"},
    "mark": {"type": "tick", "size": 60, "thickness": 1.5, "color": "#1a1a1a"},
    "encoding": {
     "x": {"field": "g", "type": "nominal"},
     "y": {"field": "m", "type": "quantitative"}
    }
   },
   {
    "data": {"values": [{"t": "c", "g": "Stage IV"}]},
    "mark": {"type": "point", "shape": "circle", "size": 484, "filled": false, "strokeWidth": 1.2, "color": "#1a1a1a", "opacity": 1},
    "encoding": {
     "x": {"field": "g", "type": "nominal", "bandPosition": 0.851},
     "y": {"datum": 4.36, "type": "quantitative"}
    }
   },
   {
    "data": {"values": [{"t": "c", "g": "Stage IV"}]},
    "mark": {"type": "text", "align": "center", "baseline": "middle", "dy": -1, "fontSize": 16, "fontStyle": "italic", "color": "#1a1a1a"},
    "encoding": {
     "x": {"field": "g", "type": "nominal", "bandPosition": 0.851},
     "y": {"datum": 4.36, "type": "quantitative"},
     "text": {"field": "t"}
    }
   }
  ]
 }
 ]
}
]
}
